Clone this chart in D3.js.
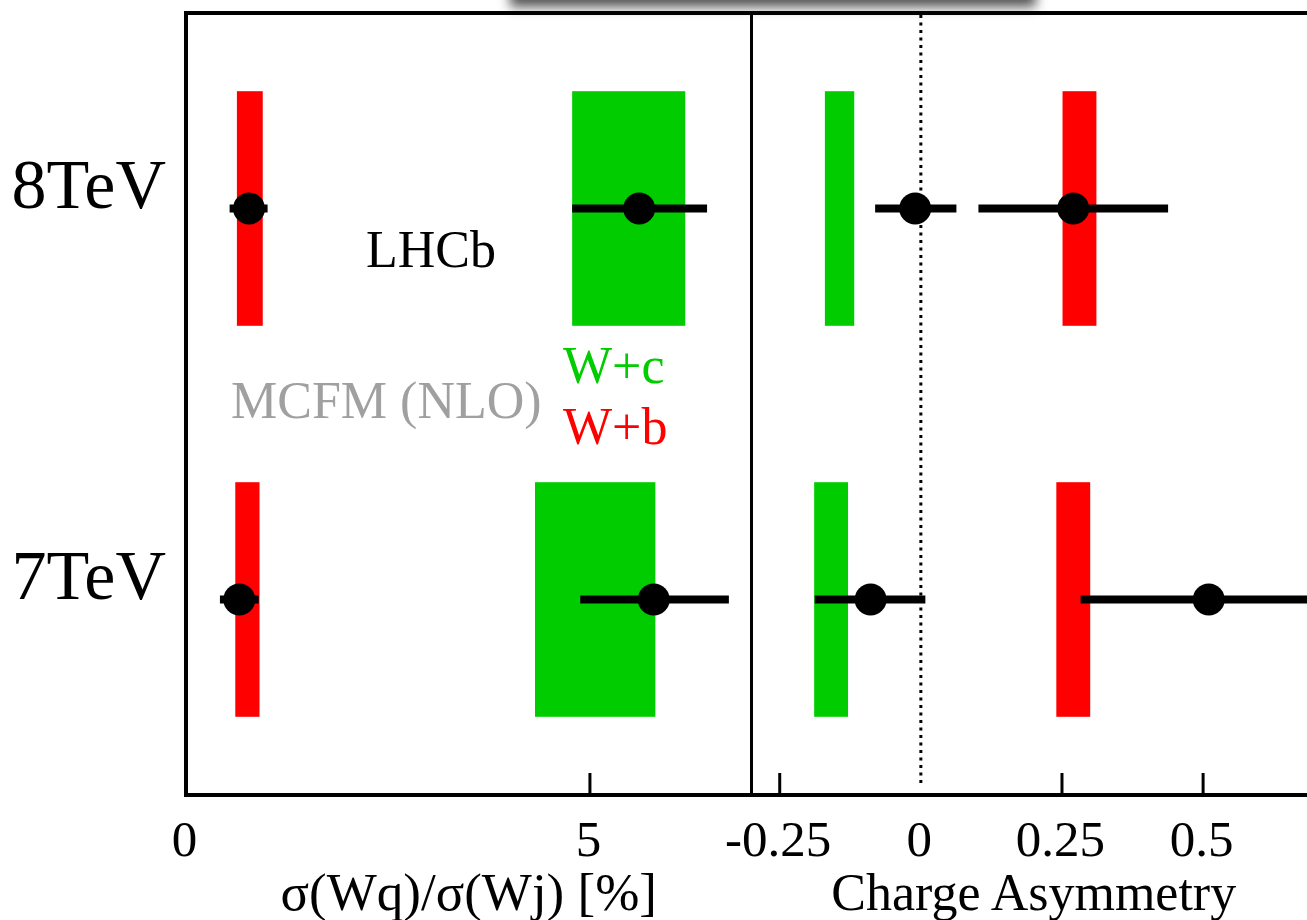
<!DOCTYPE html>
<html>
<head>
<meta charset="utf-8">
<script src="https://cdn.jsdelivr.net/npm/d3@7"></script>
<style>
  body { margin: 0; background: #fff; }
  text { font-family: "Liberation Serif", "Times New Roman", serif; }
</style>
</head>
<body>
<div class="chart"></div>
<script>
// rows, bottom to top
let energies = ["7TeV", "8TeV"]
let energyPos = [1, 2]

// sigma(Wq)/sigma(Wj) [%], MCFM bands [lo, hi]
let wbRatioBand = [[0.61, 0.91], [0.63, 0.95]]
let wcRatioBand = [[4.32, 5.81], [4.78, 6.18]]
// LHCb measurements [value, lo, hi]
let wbRatioData = [[0.66, 0.42, 0.90], [0.78, 0.54, 1.01]]
let wcRatioData = [[5.79, 4.88, 6.72], [5.61, 4.78, 6.45]]

// charge asymmetry, MCFM bands [lo, hi]
let wcAsymBand = [[-0.189, -0.129], [-0.170, -0.118]]
let wbAsymBand = [[0.240, 0.300], [0.251, 0.311]]
// LHCb measurements [value, lo, hi]
let wcAsymData = [[-0.089, -0.188, 0.008], [-0.010, -0.081, 0.063]]
let wbAsymData = [[0.51, 0.283, 0.74], [0.27, 0.102, 0.438]]

let ratioTicks = [0, 5]
let asymTicks = [-0.25, 0, 0.25, 0.5]

let width = 1307
let height = 920

let svg = d3.select(".chart")
    .append("svg")
    .attr("width", width)
    .attr("height", height)
    .style("background", "#fff")
    .style("display", "block")

let defs = svg.append("defs")
defs.append("filter")
    .attr("id", "blur")
    .attr("x", "-20%").attr("y", "-50%")
    .attr("width", "140%").attr("height", "200%")
    .append("feGaussianBlur")
    .attr("stdDeviation", 6)

// shadow of a box above the visible area
svg.append("rect")
    .attr("x", 510)
    .attr("y", -60)
    .attr("width", 526)
    .attr("height", 67)
    .attr("fill", "#555")
    .attr("filter", "url(#blur)")

//scales
let xL = d3.scaleLinear().domain([0, 7]).range([186, 751.5])
let xR = d3.scaleLinear().domain([-0.3, 0.7]).range([751.5, 1316])
let y = d3.scaleLinear().domain([0.5, 2.5]).range([795, 13])
let half = 0.3

let plot = svg.append("g")

// zero line of the asymmetry
plot.append("line")
    .attr("x1", xR(0)).attr("x2", xR(0))
    .attr("y1", y(2.5) + 2).attr("y2", y(0.5) - 8)
    .attr("stroke", "#000")
    .attr("stroke-width", 3)
    .attr("stroke-dasharray", "3,4.5")

function bands(data, x, color) {
    plot.selectAll(null)
        .data(data)
        .enter()
        .append("rect")
        .attr("x", d => x(d[0]))
        .attr("width", d => x(d[1]) - x(d[0]))
        .attr("y", (d, i) => y(energyPos[i] + half))
        .attr("height", (d, i) => y(energyPos[i] - half) - y(energyPos[i] + half))
        .attr("fill", color)
}

function points(data, x) {
    plot.selectAll(null)
        .data(data)
        .enter()
        .append("line")
        .attr("x1", d => x(d[1]))
        .attr("x2", d => x(d[2]))
        .attr("y1", (d, i) => y(energyPos[i]))
        .attr("y2", (d, i) => y(energyPos[i]))
        .attr("stroke", "#000")
        .attr("stroke-width", 8)

    plot.selectAll(null)
        .data(data)
        .enter()
        .append("circle")
        .attr("cx", d => x(d[0]))
        .attr("cy", (d, i) => y(energyPos[i]))
        .attr("r", 16)
        .attr("fill", "#000")
}

bands(wbRatioBand, xL, "#ff0000")
bands(wcRatioBand, xL, "#00cc00")
bands(wcAsymBand, xR, "#00cc00")
bands(wbAsymBand, xR, "#ff0000")

points(wbRatioData, xL)
points(wcRatioData, xL)
points(wcAsymData, xR)
points(wbAsymData, xR)

// frame
svg.append("rect")
    .attr("x", xL(0))
    .attr("y", y(2.5))
    .attr("width", xR(0.7) - xL(0))
    .attr("height", y(0.5) - y(2.5))
    .attr("fill", "none")
    .attr("stroke", "#000")
    .attr("stroke-width", 4)

// divider between the two panels
svg.append("line")
    .attr("x1", xL(7)).attr("x2", xL(7))
    .attr("y1", y(2.5)).attr("y2", y(0.5))
    .attr("stroke", "#000")
    .attr("stroke-width", 3)

//Axis
let xAxisL = d3.axisBottom(xL)
    .tickValues(ratioTicks)
    .tickSize(0)
    .tickPadding(25)
    .tickFormat(d3.format("d"))
let gL = svg.append("g")
    .attr("transform", "translate(0," + y(0.5) + ")")
    .call(xAxisL)

let xAxisR = d3.axisBottom(xR)
    .tickValues(asymTicks)
    .tickSize(0)
    .tickPadding(25)
    .tickFormat(d => d === 0 ? "0" : String(d))
let gR = svg.append("g")
    .attr("transform", "translate(-2," + y(0.5) + ")")
    .call(xAxisR)

for (let g of [gL, gR]) {
    g.select(".domain").remove()
    g.selectAll("text")
        .attr("font-size", 51)
        .attr("font-family", "Liberation Serif, serif")
        .attr("fill", "#000")
        .attr("dy", "0.71em")
}
gL.selectAll("text").attr("dx", -2)

// tick marks drawn inward
svg.selectAll(null)
    .data(ratioTicks.filter(d => d > 0))
    .enter()
    .append("line")
    .attr("x1", d => xL(d)).attr("x2", d => xL(d))
    .attr("y1", y(0.5)).attr("y2", y(0.5) - 22)
    .attr("stroke", "#000")
    .attr("stroke-width", 3)

svg.selectAll(null)
    .data(asymTicks.filter(d => d !== 0))
    .enter()
    .append("line")
    .attr("x1", d => xR(d)).attr("x2", d => xR(d))
    .attr("y1", y(0.5)).attr("y2", y(0.5) - 22)
    .attr("stroke", "#000")
    .attr("stroke-width", 3)

// axis titles
svg.append("text")
    .attr("x", (xL(0) + xL(7)) / 2)
    .attr("y", 910)
    .attr("text-anchor", "middle")
    .attr("font-size", 53)
    .text("σ(Wq)/σ(Wj) [%]")

svg.append("text")
    .attr("x", (xR(-0.3) + xR(0.7)) / 2)
    .attr("y", 910)
    .attr("text-anchor", "middle")
    .attr("font-size", 52)
    .text("Charge Asymmetry")

// row labels
svg.selectAll(null)
    .data(energies)
    .enter()
    .append("text")
    .attr("x", 166)
    .attr("y", (d, i) => y(energyPos[i]) - 1)
    .attr("text-anchor", "end")
    .attr("font-size", 70)
    .text(d => d)

// annotations
svg.append("text")
    .attr("x", 366).attr("y", 267)
    .attr("font-size", 52)
    .text("LHCb")

svg.append("text")
    .attr("x", 231).attr("y", 418)
    .attr("font-size", 52)
    .attr("fill", "#a0a0a0")
    .text("MCFM (NLO)")

svg.append("text")
    .attr("x", 563).attr("y", 383)
    .attr("font-size", 52)
    .attr("fill", "#00cc00")
    .text("W+c")

svg.append("text")
    .attr("x", 563).attr("y", 444)
    .attr("font-size", 52)
    .attr("fill", "#ff0000")
    .text("W+b")
</script>
</body>
</html>
